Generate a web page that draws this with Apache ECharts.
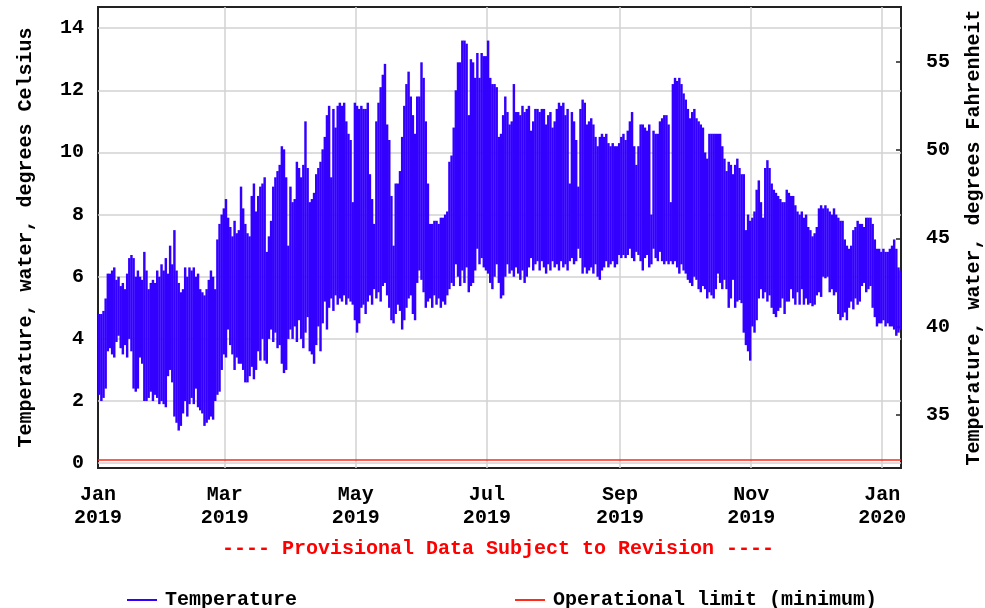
<!DOCTYPE html>
<html>
<head>
<meta charset="utf-8">
<script src="https://cdn.jsdelivr.net/npm/echarts@6/dist/echarts.min.js"></script>
<style>
  html, body { margin: 0; padding: 0; background: #fff; }
  #chart { width: 985px; height: 608px; }
</style>
</head>
<body>
<div id="chart"></div>
<script>
// daily max / min water temperature, deg C, starting 2019-01-01
var startDate = new Date(2019, 0, 1).getTime();
var endDate = new Date(2020, 0, 9, 18).getTime();

var dailyMax = [
  4.8, 4.8, 4.9, 5.3, 6.1, 6.1, 6.2, 6.3, 5.9, 6.0,
  5.7, 5.8, 5.6, 6.1, 6.6, 6.7, 6.6, 6.0, 6.2, 6.0,
  5.9, 6.8, 6.2, 5.6, 5.8, 5.9, 5.8, 6.2, 6.0, 6.4,
  6.2, 6.6, 6.1, 7.0, 6.4, 7.5, 6.2, 5.8, 5.5, 5.6,
  6.3, 6.0, 6.3, 6.2, 6.3, 6.0, 6.1, 5.6, 5.5, 5.4,
  5.6, 5.9, 6.2, 6.0, 5.6, 7.2, 7.7, 8.0, 8.2, 8.5,
  7.9, 7.6, 7.3, 7.8, 7.4, 7.5, 8.9, 8.2, 7.7, 7.4,
  7.3, 8.6, 9.0, 8.1, 8.6, 8.9, 9.0, 9.2, 6.8, 7.3,
  7.8, 8.9, 9.2, 9.4, 9.6, 10.2, 10.1, 9.2, 7.0, 8.9,
  8.4, 8.5, 9.7, 9.5, 9.2, 9.6, 11.0, 9.5, 8.4, 8.5,
  8.7, 9.3, 9.5, 9.7, 10.1, 10.5, 11.2, 11.5, 9.2, 11.4,
  10.8, 11.5, 11.6, 11.5, 11.6, 11.0, 10.6, 10.4, 8.4, 11.6,
  11.5, 11.4, 11.5, 11.4, 11.4, 11.6, 9.3, 8.5, 7.7, 11.0,
  11.6, 12.1, 12.5, 12.85, 10.9, 10.4, 8.6, 7.0, 9.0, 9.0,
  9.4, 10.5, 11.5, 12.2, 12.6, 11.8, 11.2, 10.6, 11.8, 11.8,
  12.9, 12.4, 11.0, 9.0, 7.7, 7.7, 7.8, 7.8, 7.7, 7.9,
  7.9, 8.0, 8.1, 9.7, 9.9, 10.8, 12.0, 12.9, 12.9, 13.6,
  13.6, 13.5, 11.2, 13.0, 12.9, 12.4, 13.2, 12.4, 13.2, 13.1,
  13.1, 13.6, 12.4, 12.2, 12.2, 12.1, 10.5, 10.6, 11.2, 11.8,
  11.3, 10.9, 11.0, 12.2, 11.3, 11.3, 11.2, 11.5, 11.3, 11.4,
  11.5, 10.7, 11.0, 11.4, 11.4, 11.3, 11.4, 11.4, 10.9, 11.2,
  11.3, 10.8, 11.0, 11.4, 11.6, 11.5, 11.6, 11.2, 11.4, 9.0,
  11.3, 11.0, 10.4, 8.9, 11.4, 11.7, 11.6, 10.9, 11.0, 11.1,
  10.9, 10.5, 10.2, 10.5, 10.6, 10.5, 10.6, 10.3, 10.2, 10.3,
  10.2, 10.2, 10.3, 10.5, 10.6, 10.4, 10.7, 11.0, 11.3, 10.2,
  9.6, 10.2, 10.9, 10.9, 10.8, 10.7, 10.9, 8.0, 10.7, 10.6,
  10.6, 11.0, 11.1, 11.2, 11.2, 10.9, 8.4, 12.2, 12.4, 12.3,
  12.4, 12.2, 11.9, 11.7, 11.4, 11.1, 11.3, 11.4, 11.1, 11.0,
  10.9, 10.8, 10.0, 9.8, 10.6, 10.6, 10.6, 10.6, 10.6, 10.6,
  10.2, 9.8, 9.4, 9.7, 9.6, 9.3, 9.6, 9.8, 9.5, 9.3,
  9.3, 7.5, 8.0, 7.8, 7.9, 8.1, 8.8, 9.1, 8.4, 7.9,
  9.5, 9.75, 9.5, 9.0, 8.8, 8.7, 8.6, 8.5, 8.4, 8.4,
  8.8, 8.7, 8.6, 8.6, 8.3, 8.1, 8.0, 8.1, 7.9, 8.0,
  7.6, 7.5, 7.3, 7.4, 7.6, 8.2, 8.3, 8.2, 8.3, 8.2,
  8.1, 8.0, 8.2, 8.0, 7.9, 7.8, 7.8, 7.2, 7.0, 6.9,
  7.0, 7.5, 7.6, 7.8, 7.7, 7.7, 7.6, 7.9, 7.9, 7.9,
  7.7, 7.2, 6.9, 6.9, 6.8, 6.9, 6.8, 6.8, 6.9, 7.0,
  7.2, 6.9, 6.3, 6.2
];

var dailyMin = [
  2.2, 2.0, 2.1, 2.4, 3.6, 3.7, 3.5, 3.4, 3.9, 4.1,
  3.7, 3.5, 3.8, 3.4, 4.0, 3.6, 2.4, 2.3, 2.4, 3.4,
  3.2, 2.0, 2.0, 2.1, 2.3, 2.0, 2.2, 2.1, 1.9, 2.0,
  1.9, 1.8, 2.8, 3.0, 2.6, 1.5, 1.3, 1.05, 1.2, 1.6,
  2.0, 1.5, 1.9, 2.1, 1.9, 2.4, 1.8, 1.7, 1.6, 1.2,
  1.3, 1.4, 1.5, 1.4, 2.0, 2.2, 2.3, 3.0, 3.5, 3.4,
  4.3, 3.8, 3.5, 3.0, 3.4, 3.2, 3.2, 3.0, 2.6, 2.6,
  2.8, 3.1, 2.7, 3.0, 3.6, 3.3, 4.0, 3.3, 3.2, 4.0,
  4.3, 3.9, 4.2, 3.7, 3.8, 3.2, 2.9, 3.0, 4.0, 4.3,
  4.0, 4.4, 3.9, 4.6, 4.0, 3.7, 4.2, 4.7, 3.6, 3.5,
  3.2, 3.8, 4.4, 3.6, 4.5, 5.2, 4.3, 5.0, 5.3, 4.9,
  5.4, 5.1, 5.3, 5.2, 5.4, 5.1, 5.3, 5.2, 5.1, 4.6,
  4.2, 4.5, 5.0, 5.1, 4.8, 5.2, 5.4, 5.1, 5.6, 5.3,
  5.5, 5.2, 5.7, 5.8, 5.4, 5.0, 4.6, 4.5, 4.8, 5.1,
  4.9, 4.3, 4.6, 5.0, 5.3, 5.4, 4.8, 4.6, 5.8, 6.2,
  5.9, 5.5, 5.0, 5.2, 5.3, 5.0, 5.4, 5.1, 5.3, 5.0,
  5.2, 5.1, 5.4, 5.6, 5.8, 5.7, 6.4, 6.0, 5.7, 6.2,
  5.8, 6.3, 5.5, 5.7, 5.8, 6.2, 6.9, 6.4, 6.6, 6.3,
  6.2, 6.1, 5.8, 5.6, 6.0, 6.4, 5.8, 5.3, 5.4, 6.0,
  6.4, 6.1, 6.2, 6.0, 6.3, 6.1, 5.9, 6.2, 5.8, 6.0,
  6.3, 6.6, 6.2, 6.4, 6.5, 6.2, 6.5, 6.3, 6.1, 6.4,
  6.2, 6.5, 6.3, 6.4, 6.2, 6.5, 6.3, 6.4, 6.2, 6.5,
  6.6, 6.4, 6.5, 6.9, 6.6, 6.1, 6.3, 6.1, 6.2, 6.3,
  6.1, 6.4, 6.0, 5.9, 6.2, 6.3, 6.5, 6.3, 6.4, 6.5,
  6.3, 6.4, 6.7, 6.6, 6.7, 6.6, 6.7, 6.9, 6.6, 6.5,
  6.8, 6.7, 6.5, 6.2, 6.6, 6.7, 6.3, 6.4, 6.9, 6.6,
  6.5, 6.8, 6.5, 6.4, 6.5, 6.4, 6.5, 6.4, 6.5, 6.3,
  6.1, 6.4, 6.2, 6.1, 5.9, 5.8, 5.7, 6.0, 5.9, 5.6,
  5.5, 5.7, 5.6, 5.3, 5.5, 5.4, 5.3, 5.6, 6.1, 5.8,
  5.6, 5.9, 5.6, 5.0, 5.3, 5.9, 5.0, 5.2, 5.25, 5.15,
  4.2, 3.8, 3.6, 3.3, 4.4, 4.2, 4.6, 5.3, 5.6, 5.3,
  5.5, 5.2, 5.4, 5.0, 4.8, 4.7, 4.9, 5.0, 5.3, 4.8,
  5.2, 5.2, 5.6, 5.3, 5.1, 5.5, 5.1, 5.6, 5.1, 5.3,
  5.1, 5.15, 5.05, 5.1, 5.4, 5.5, 5.35, 6.0, 5.95, 6.0,
  5.5, 5.6, 5.4, 5.5, 4.8, 4.6, 4.7, 4.85, 4.6, 5.0,
  5.2, 4.95, 5.3, 5.1, 5.2, 5.7, 5.8, 5.5, 5.6, 5.7,
  5.0, 4.7, 4.4, 4.5, 4.5, 4.6, 4.4, 4.5, 4.4, 4.4,
  4.3, 4.1, 4.2, 4.3
];

var limitValue = 0.1;
var celsiusTicks = [0, 2, 4, 6, 8, 10, 12, 14];
var fahrenheitTicks = [35, 40, 45, 50, 55];
var monthTicks = [
  new Date(2019, 0, 1).getTime(), new Date(2019, 2, 1).getTime(),
  new Date(2019, 4, 1).getTime(), new Date(2019, 6, 1).getTime(),
  new Date(2019, 8, 1).getTime(), new Date(2019, 10, 1).getTime(),
  new Date(2020, 0, 1).getTime()
];
var monthNames = ['Jan','Feb','Mar','Apr','May','Jun','Jul','Aug','Sep','Oct','Nov','Dec'];

var DAY = 86400000;
// one row per day: [day start, max, min]
var tempData = dailyMax.map(function (v, i) {
  return [startDate + i * DAY, v, dailyMin[i]];
});

var FONT = 'Liberation Mono';
var BLUE = '#3300ff';
var RED = '#ff2a1a';
var gridLine = { color: '#d2d2d2', width: 1.5, type: 'solid' };
var txt = { color: '#000', fontFamily: FONT, fontWeight: 'bold', fontSize: 20 };

var myChart = echarts.init(document.getElementById('chart'));
var option = {
  animation: false,
  backgroundColor: '#fff',
  grid: {
    show: true, left: 98, right: 84, top: 7, bottom: 140,
    outerBoundsMode: 'none', containLabel: false,
    borderColor: '#222', borderWidth: 2, backgroundColor: 'transparent'
  },
  xAxis: {
    type: 'value',
    min: startDate, max: endDate,
    axisLine: { show: false },
    axisTick: { show: false },
    splitLine: { show: false },
    axisLabel: Object.assign({
      customValues: monthTicks,
      margin: 15, lineHeight: 23,
      showMinLabel: true, showMaxLabel: true, hideOverlap: false,
      formatter: function (v) {
        var d = new Date(v);
        return monthNames[d.getMonth()] + '\n' + d.getFullYear();
      }
    }, txt)
  },
  yAxis: [{
    type: 'value',
    min: -0.155, max: 14.68,
    position: 'left',
    name: 'Temperature, water, degrees Celsius',
    nameLocation: 'middle', nameRotate: 90, nameGap: 62,
    nameTextStyle: txt,
    axisLine: { show: false },
    axisTick: { show: false },
    splitLine: { show: false },
    axisLabel: Object.assign({ customValues: celsiusTicks, margin: 14 }, txt)
  }, {
    type: 'value',
    min: 32, max: 58.1,
    position: 'right',
    name: 'Temperature, water, degrees Fahrenheit',
    nameLocation: 'middle', nameRotate: 90, nameGap: 63,
    nameTextStyle: txt,
    axisLine: { show: false },
    axisTick: { show: true, inside: true, length: 5, customValues: fahrenheitTicks, lineStyle: { color: '#222', width: 1.5 } },
    splitLine: { show: false },
    axisLabel: Object.assign({ customValues: fahrenheitTicks, margin: 25 }, txt)
  }],
  legend: [{
    left: 122, top: 585,
    itemWidth: 30, itemHeight: 2, icon: 'rect',
    textStyle: Object.assign({ padding: [0, 0, 0, 3] }, txt),
    data: ['Temperature']
  }, {
    left: 510, top: 585,
    itemWidth: 30, itemHeight: 2, icon: 'rect',
    textStyle: Object.assign({ padding: [0, 0, 0, 3] }, txt),
    data: ['Operational limit (minimum)']
  }],
  graphic: [{
    type: 'text', x: 498, y: 539,
    style: {
      text: '---- Provisional Data Subject to Revision ----',
      fill: '#ff0000', font: 'bold 20px "Liberation Mono"', textAlign: 'center'
    }
  }],
  series: [{
    name: 'Temperature',
    type: 'custom',
    z: 2,
    clip: true,
    itemStyle: { color: BLUE },
    encode: { x: 0, y: [1, 2] },
    data: tempData,
    renderItem: function (params, api) {
      var t = api.value(0);
      var top = api.coord([t, api.value(1)]);
      var bottom = api.coord([t + DAY, api.value(2)]);
      return {
        type: 'rect',
        shape: { x: top[0], y: top[1], width: bottom[0] - top[0] + 0.3, height: bottom[1] - top[1] },
        style: { fill: BLUE }
      };
    },
    markLine: {
      z: 1, silent: true, symbol: 'none', animation: false,
      label: { show: false },
      lineStyle: gridLine,
      emphasis: { disabled: true },
      data: celsiusTicks.map(function (v) { return { yAxis: v }; })
        .concat(monthTicks.slice(1).map(function (t) { return { xAxis: t }; }))
    }
  }, {
    name: 'Operational limit (minimum)',
    type: 'line',
    z: 3,
    showSymbol: false,
    symbol: 'none',
    color: RED,
    lineStyle: { color: RED, width: 1.5 },
    data: [[startDate, limitValue], [endDate, limitValue]]
  }]
};
myChart.setOption(option);
</script>
</body>
</html>
